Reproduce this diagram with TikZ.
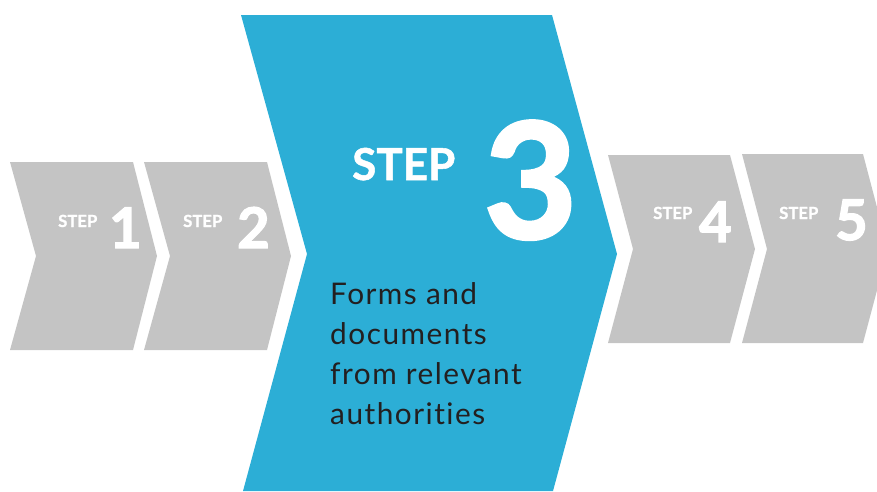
\documentclass[tikz,border=0pt]{standalone}
\usepackage{fontspec}
\setmainfont{Lato}
\newfontfamily\heavyfont{Lato}[BoldFeatures={FakeBold=1.2}]
\newfontfamily\numfont{Lato}[BoldFeatures={FakeBold=2.4}]
\newfontfamily\bodyfont{Lato}[LetterSpace=5, Ligatures={NoCommon,NoRare,NoDiscretionary}]
\definecolor{stepgrey}{HTML}{C4C4C4}
\definecolor{stepblue}{HTML}{2CAED6}
\definecolor{bodytext}{HTML}{231F20}
\tikzset{
  greychev/.style={fill=stepgrey},
  bluechev/.style={fill=stepblue},
  smallstep/.style={anchor=base west, inner sep=0pt, text=white, font=\heavyfont\fontsize{16.7}{18}\selectfont\bfseries},
  smallnum/.style={anchor=base west, inner sep=0pt, text=white, font=\numfont\fontsize{56}{60}\selectfont\bfseries},
  bigstep/.style={anchor=base west, inner sep=0pt, text=white, font=\heavyfont\fontsize{44}{48}\selectfont\bfseries},
  bignum/.style={anchor=base west, inner sep=0pt, text=white, font=\numfont\fontsize{160}{170}\selectfont\bfseries},
  bodylabel/.style={anchor=north west, inner sep=0pt, text=bodytext, align=left, font=\bodyfont\fontsize{29.8}{40}\selectfont}
}
\begin{document}
\begin{tikzpicture}[x=1pt,y=-1pt]
\useasboundingbox (0,0) rectangle (877,491);
\clip (0,0) rectangle (877,491);
% chevrons
\fill[greychev] (10,162) -- (133,162) -- (157,256) -- (133,350) -- (10,350) -- (36,256) -- cycle;
\fill[greychev] (144,162) -- (267,162) -- (291,256) -- (267,350) -- (144,350) -- (170,256) -- cycle;
\fill[bluechev] (241,15) -- (552,15) -- (617,254) -- (553,491) -- (243,491) -- (307,254) -- cycle;
\fill[greychev] (608,155) -- (730,155) -- (755,249) -- (730,343) -- (608,343) -- (633,249) -- cycle;
\fill[greychev] (742,154) -- (863,154) -- (888,249) -- (863,343) -- (742,343) -- (767,249) -- cycle;
% labels
\node[smallstep] (s1) at (58,227) {STEP};
\node[smallnum] (n1) at (109,248) {1};
\node[smallstep] (s2) at (183,227) {STEP};
\node[smallnum] (n2) at (237,248) {2};
\node[bigstep] (s3) at (352,180) {STEP};
\node[bignum] (n3) at (484,238) {3};
\node[bodylabel] (body) at (330,282) {Forms and\\documents\\from relevant\\authorities};
\node[smallstep] (s4) at (653,219) {STEP};
\node[smallnum] (n4) at (699,242) {4};
\node[smallstep] (s5) at (779,219) {STEP};
\node[smallnum] (n5) at (835,240) {5};
\end{tikzpicture}
\end{document}
